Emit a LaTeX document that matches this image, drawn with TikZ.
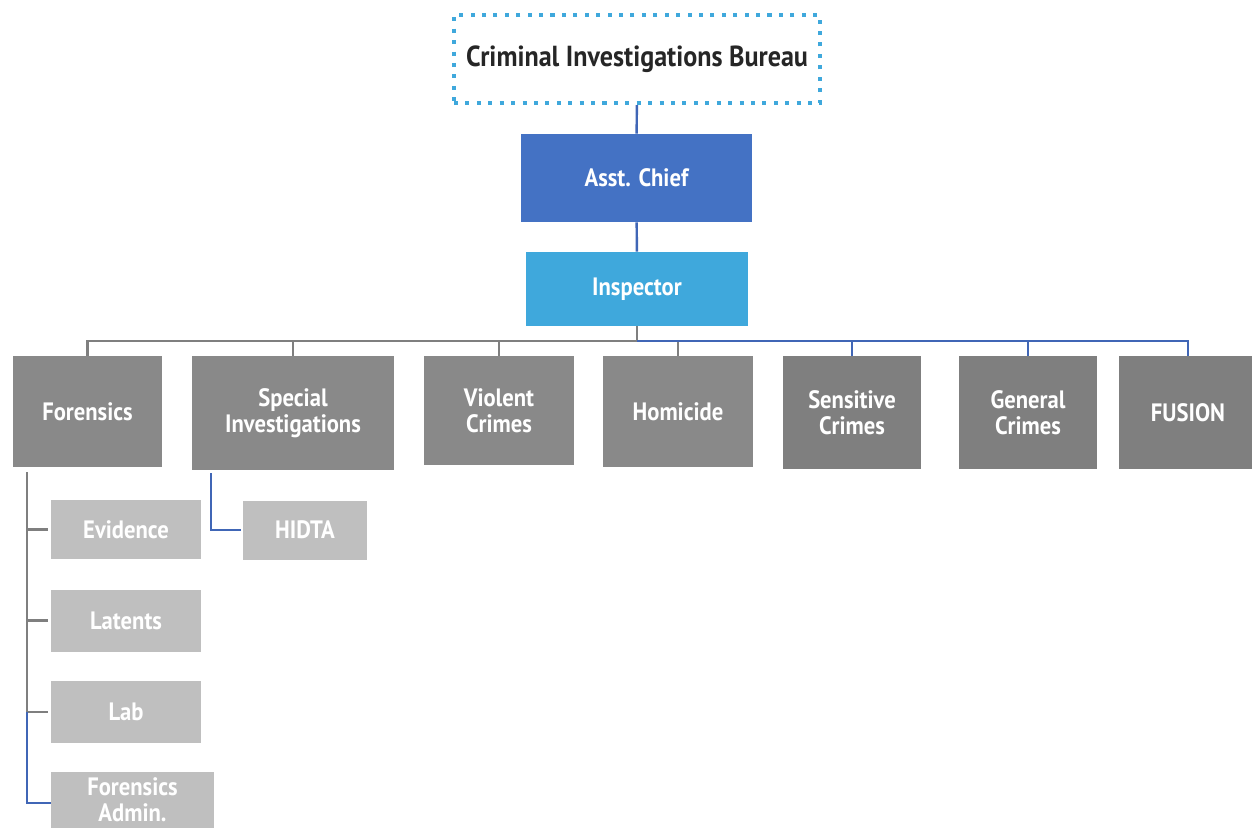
\documentclass[tikz,border=0pt]{standalone}
\usepackage{fontspec}
\setmainfont{PT Sans}[FakeStretch=0.9]
\usetikzlibrary{calc}

\definecolor{cibblue}{HTML}{3FA8DC}
\definecolor{chiefblue}{HTML}{4472C4}
\definecolor{lineblue}{HTML}{4066B6}
\definecolor{linegray}{HTML}{7F7F7F}
\definecolor{unitgray}{HTML}{898989}
\definecolor{unitdark}{HTML}{7F7F7F}
\definecolor{subgray}{HTML}{BFBFBF}

\begin{document}
\begin{tikzpicture}[x=0.02cm,y=-0.02cm,
    sz/.style 2 args={minimum width=#1*0.02cm,minimum height=#2*0.02cm},
    box/.style={inner sep=0pt,align=center,text=white,
      font=\bfseries\fontsize{14.3}{14.8}\selectfont},
    unit/.style={box,fill=unitgray},
    unitd/.style={box,fill=unitdark},
    sub/.style={box,fill=subgray},
    gline/.style={draw=linegray,line width=1.4pt},
    bline/.style={draw=lineblue,line width=1.4pt}]

  \useasboundingbox (0,0) rectangle (1252,828);

  \node[sz={366}{88},draw=cibblue,line width=2.3pt,dash pattern=on 2.3pt off 4.2pt,
    align=center,text={black!85},font=\bfseries\fontsize{16.5}{18}\selectfont]
    (cib) at (637,59) {Criminal Investigations Bureau};
  \node[box,sz={231}{88},fill=chiefblue] (chief) at (636.5,178) {Asst. Chief};
  \node[box,sz={222}{74},fill=cibblue] (insp) at (637,289) {Inspector};

  \node[unit,sz={149}{111}] (fore) at (87.5,411.5) {Forensics};
  \node[unit,sz={202}{114}] (spec) at (293,413) {Special\\Investigations};
  \node[unit,sz={150}{109}] (viol) at (499,410.5) {Violent\\Crimes};
  \node[unit,sz={150}{111}] (homi) at (678,411.5) {Homicide};
  \node[unitd,sz={138}{113}] (sens) at (852,412.5) {Sensitive\\Crimes};
  \node[unitd,sz={138}{113}] (gen) at (1028,412.5) {General\\Crimes};
  \node[unitd,sz={138}{113}] (fus) at (1188,412.5) {FUSION};

  \node[sub,sz={150}{59}] (evid) at (126,529.5) {Evidence};
  \node[sub,sz={150}{62}] (lat) at (126,620.5) {Latents};
  \node[sub,sz={150}{62}] (lab) at (126,712) {Lab};
  \node[sub,sz={163}{62}] (fadm) at (132.5,803) {};
  \node[box] (fadmtext) at (132.5,800) {Forensics\\Admin.};
  \node[sub,sz={124}{59}] (hidta) at (305,530) {HIDTA};

  \coordinate (bus) at (637,341);
  \coordinate (ftop) at (27,472);
  \coordinate (stop) at (211,473);

  \draw[bline] (cib) -- (chief);
  \draw[bline] (chief) -- (insp);
  \draw[gline] (insp) -- (bus);

  \draw[gline] (fore.north) |- (bus -| homi.north) -- (homi.north);
  \foreach \n in {spec,viol}{
    \draw[gline] (\n.north) -- (\n.north |- bus);
  }
  \draw[bline] (bus) -| (fus.north);
  \foreach \n in {sens,gen}{
    \draw[bline] (\n.north) -- (\n.north |- bus);
  }

  \draw[gline] (ftop) -- (ftop |- lab);
  \foreach \n in {evid,lat,lab}{
    \draw[gline,shorten >=3*0.02cm] (ftop |- \n) -- (\n.west);
  }
  \draw[bline] (ftop |- lab) |- (fadm.west);
  \draw[bline,shorten >=2*0.02cm] (stop) |- (hidta.west);

\end{tikzpicture}
\end{document}
